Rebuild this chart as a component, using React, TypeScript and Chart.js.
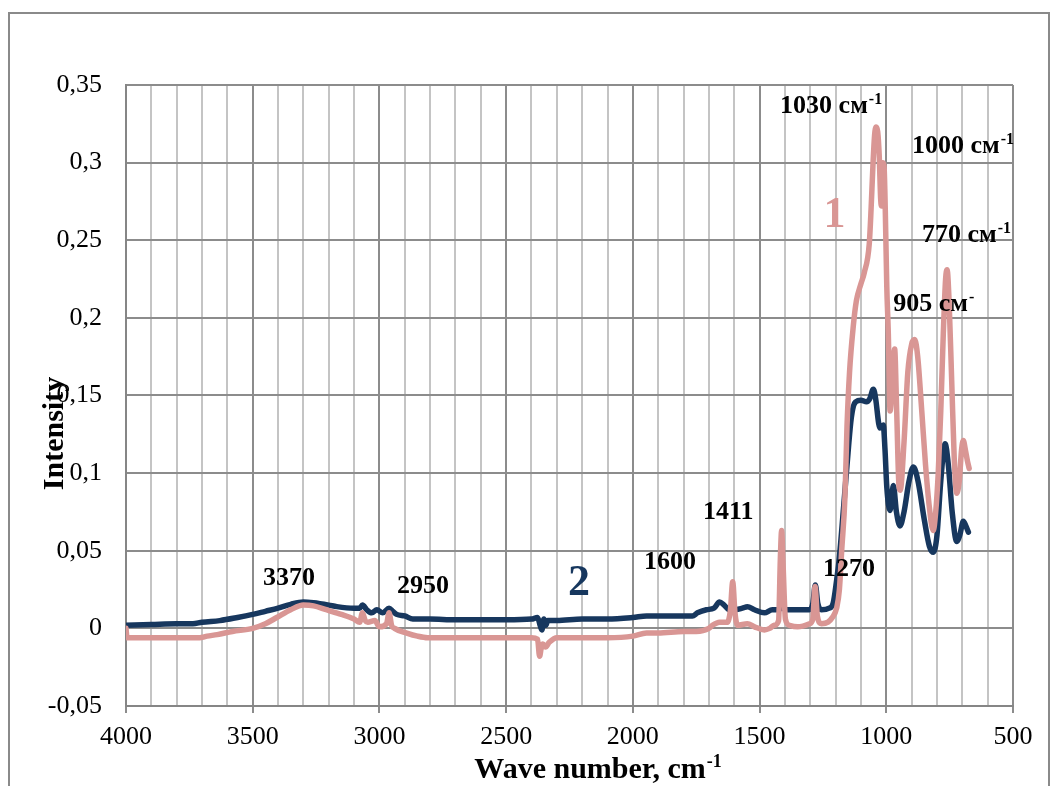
import React, { useEffect, useRef } from 'react';
import { Chart, registerables } from 'chart.js';

Chart.register(...registerables);

const FONT = '"Liberation Serif", "Times New Roman", serif';
const PINK = '#D99694';
const NAVY = '#17375E';

// Series 1 (pink)
const waveNumbers1 = [4000, 3996, 3900, 3800, 3710, 3680, 3640, 3580, 3500, 3450, 3405, 3350, 3300, 3260, 3210, 3150, 3100, 3078, 3067, 3056, 3046, 3018, 3000, 2972, 2962, 2952, 2940, 2892, 2850, 2810, 2700, 2600, 2500, 2400, 2376, 2368, 2361, 2355, 2345, 2330, 2300, 2200, 2100, 2000, 1946, 1900, 1800, 1750, 1700, 1686, 1658, 1627, 1615, 1606, 1597, 1587, 1548, 1520, 1481, 1460, 1442, 1425, 1418, 1413, 1407, 1398, 1382, 1350, 1303, 1290, 1281, 1272, 1256, 1230, 1213, 1196, 1185, 1176, 1163, 1155, 1145, 1130, 1118, 1100, 1087, 1067, 1060, 1053, 1046, 1040, 1034, 1028, 1022, 1018, 1014, 1009, 1004, 998, 992, 985, 976, 967, 959, 950, 945, 930, 915, 900, 888, 876, 860, 845, 830, 815, 805, 795, 785, 775, 766, 760, 752, 742, 732, 722, 712, 703, 696, 688, 680, 673];
const intensity1 = [0.000, -0.006, -0.006, -0.006, -0.006, -0.005, -0.004, -0.002, 0.000, 0.003, 0.007, 0.012, 0.015, 0.0145, 0.012, 0.009, 0.006, 0.004, 0.010, 0.005, 0.004, 0.005, 0.001, 0.003, 0.010, 0.002, 0.000, -0.003, -0.005, -0.006, -0.006, -0.006, -0.006, -0.006, -0.007, -0.018, -0.012, -0.010, -0.012, -0.009, -0.006, -0.006, -0.006, -0.005, -0.003, -0.003, -0.002, -0.002, 0.000, 0.002, 0.004, 0.004, 0.012, 0.030, 0.010, 0.002, 0.003, 0.001, -0.001, 0.000, 0.002, 0.005, 0.045, 0.063, 0.040, 0.006, 0.002, 0.001, 0.003, 0.006, 0.027, 0.008, 0.003, 0.004, 0.007, 0.013, 0.025, 0.050, 0.085, 0.13, 0.165, 0.195, 0.211, 0.222, 0.229, 0.248, 0.27, 0.297, 0.318, 0.323, 0.320, 0.305, 0.276, 0.272, 0.300, 0.298, 0.27, 0.22, 0.19, 0.14, 0.16, 0.18, 0.14, 0.092, 0.089, 0.12, 0.165, 0.183, 0.186, 0.175, 0.14, 0.105, 0.078, 0.063, 0.075, 0.10, 0.14, 0.19, 0.225, 0.231, 0.21, 0.16, 0.11, 0.087, 0.095, 0.115, 0.121, 0.115, 0.108, 0.103];

// Series 2 (navy)
const waveNumbers2 = [4000, 3900, 3800, 3736, 3700, 3630, 3560, 3500, 3450, 3400, 3350, 3300, 3260, 3200, 3168, 3100, 3078, 3067, 3050, 3030, 3010, 2987, 2962, 2947, 2932, 2900, 2868, 2800, 2700, 2600, 2500, 2400, 2376, 2366, 2359, 2351, 2343, 2336, 2329, 2300, 2200, 2100, 2000, 1946, 1900, 1800, 1765, 1745, 1710, 1680, 1658, 1640, 1620, 1600, 1568, 1548, 1520, 1481, 1450, 1434, 1410, 1390, 1370, 1330, 1303, 1290, 1280, 1270, 1256, 1225, 1210, 1196, 1185, 1170, 1155, 1140, 1130, 1120, 1100, 1078, 1065, 1051, 1042, 1030, 1025, 1012, 1005, 998, 985, 972, 960, 946, 930, 910, 893, 875, 850, 830, 814, 800, 785, 768, 755, 740, 722, 710, 696, 686, 676];
const intensity2 = [0.002, 0.0025, 0.003, 0.003, 0.004, 0.005, 0.007, 0.009, 0.011, 0.013, 0.0155, 0.017, 0.0165, 0.015, 0.014, 0.013, 0.013, 0.015, 0.012, 0.010, 0.012, 0.010, 0.013, 0.011, 0.009, 0.008, 0.006, 0.006, 0.0055, 0.0055, 0.0055, 0.006, 0.007, 0.002, -0.001, 0.006, 0.002, 0.005, 0.005, 0.005, 0.006, 0.006, 0.007, 0.008, 0.008, 0.008, 0.008, 0.010, 0.012, 0.013, 0.017, 0.015, 0.012, 0.012, 0.013, 0.014, 0.012, 0.010, 0.012, 0.012, 0.013, 0.012, 0.012, 0.012, 0.012, 0.016, 0.028, 0.016, 0.012, 0.013, 0.016, 0.031, 0.046, 0.075, 0.105, 0.133, 0.143, 0.146, 0.147, 0.146, 0.148, 0.154, 0.148, 0.132, 0.129, 0.131, 0.115, 0.091, 0.076, 0.092, 0.075, 0.066, 0.075, 0.095, 0.104, 0.095, 0.07, 0.053, 0.049, 0.06, 0.095, 0.119, 0.105, 0.075, 0.056, 0.06, 0.069, 0.066, 0.062];

// Axis ticks
const xMajorTicks = [4000, 3500, 3000, 2500, 2000, 1500, 1000, 500];
const xGridValues = Array.from({ length: 36 }, (_, i) => 500 + i * 100);
const yTicks = [-0.05, 0, 0.05, 0.1, 0.15, 0.2, 0.25, 0.3, 0.35];
const yTickLabels = ['-0,05', '0', '0,05', '0,1', '0,15', '0,2', '0,25', '0,3', '0,35'];

// Peak labels (anchor = left/baseline, in data units)
const peakLabels = [
  { text: '3370', sup: '', x: 3459, y: 0.028, size: 26, color: '#000' },
  { text: '2950', sup: '', x: 2931, y: 0.0228, size: 26, color: '#000' },
  { text: '1600', sup: '', x: 1956, y: 0.0383, size: 26, color: '#000' },
  { text: '1411', sup: '', x: 1723, y: 0.0705, size: 26, color: '#000' },
  { text: '1270', sup: '', x: 1250, y: 0.0338, size: 26, color: '#000' },
  { text: '1030 см', sup: '-1', x: 1419, y: 0.332, size: 26, color: '#000' },
  { text: '1000 см', sup: '-1', x: 899, y: 0.3062, size: 26, color: '#000' },
  { text: '770 см', sup: '-1', x: 859, y: 0.2489, size: 26, color: '#000' },
  { text: '905 см', sup: '-', x: 973, y: 0.2044, size: 26, color: '#000' },
  { text: '2', sup: '', x: 2256, y: 0.0215, size: 44, color: NAVY },
  { text: '1', sup: '', x: 1248, y: 0.2586, size: 44, color: PINK },
];

const isMajor = (v: number) => xMajorTicks.includes(v);

const decorPlugin = {
  id: 'decor',
  beforeDraw(chart: any) {
    const ctx = chart.ctx;
    ctx.save();
    ctx.strokeStyle = '#8a8a8a';
    ctx.lineWidth = 2;
    ctx.strokeRect(9, 13, 1040, 800);
    ctx.restore();
  },
  afterDraw(chart: any) {
    const ctx = chart.ctx;
    const xs = chart.scales.x;
    const ys = chart.scales.y;
    const area = chart.chartArea;
    ctx.save();
    ctx.textAlign = 'left';
    ctx.textBaseline = 'alphabetic';
    for (const a of peakLabels) {
      const px = xs.getPixelForValue(a.x);
      const py = ys.getPixelForValue(a.y);
      ctx.fillStyle = a.color;
      ctx.font = `bold ${a.size}px ${FONT}`;
      ctx.fillText(a.text, px, py);
      if (a.sup) {
        const w = ctx.measureText(a.text).width;
        ctx.font = `bold ${Math.round(a.size * 0.62)}px ${FONT}`;
        ctx.fillText(a.sup, px + w + 1, py - 9);
      }
    }
    // X axis title
    ctx.fillStyle = '#000';
    ctx.font = `bold 30px ${FONT}`;
    const main = 'Wave number, cm';
    const mw = ctx.measureText(main).width;
    ctx.font = `bold 18px ${FONT}`;
    const sw = ctx.measureText('-1').width;
    const cx = (area.left + area.right) / 2 + 28;
    const startX = cx - (mw + sw) / 2;
    ctx.font = `bold 30px ${FONT}`;
    ctx.fillText(main, startX, 778);
    ctx.font = `bold 18px ${FONT}`;
    ctx.fillText('-1', startX + mw + 1, 767);
    // Y axis title
    ctx.save();
    ctx.translate(63, (area.top + area.bottom) / 2 + 38);
    ctx.rotate(-Math.PI / 2);
    ctx.textAlign = 'center';
    ctx.font = `bold 30px ${FONT}`;
    ctx.fillText('Intensity', 0, 0);
    ctx.restore();
    ctx.restore();
  },
};

export default function App() {
  const canvasRef = useRef<HTMLCanvasElement | null>(null);

  useEffect(() => {
    const canvas = canvasRef.current;
    if (!canvas) return;
    const chart = new Chart(canvas, {
      type: 'line',
      data: {
        datasets: [
          {
            label: '1',
            data: waveNumbers1.map((w, i) => ({ x: w, y: intensity1[i] })),
            borderColor: PINK,
            backgroundColor: PINK,
            borderWidth: 5.5,
            pointRadius: 0,
            cubicInterpolationMode: 'monotone',
            borderJoinStyle: 'round',
            borderCapStyle: 'round',
            fill: false,
          },
          {
            label: '2',
            data: waveNumbers2.map((w, i) => ({ x: w, y: intensity2[i] })),
            borderColor: NAVY,
            backgroundColor: NAVY,
            borderWidth: 5.5,
            pointRadius: 0,
            cubicInterpolationMode: 'monotone',
            borderJoinStyle: 'round',
            borderCapStyle: 'round',
            fill: false,
          },
        ],
      },
      options: {
        animation: false,
        responsive: false,
        devicePixelRatio: 1,
        layout: { padding: { top: 85, right: 42, left: 0, bottom: 0 } },
        plugins: {
          legend: { display: false },
          tooltip: { enabled: false },
        },
        scales: {
          x: {
            type: 'linear',
            reverse: true,
            min: 500,
            max: 4000,
            afterBuildTicks: (s: any) => {
              s.ticks = xGridValues.map((v) => ({ value: v }));
            },
            afterFit: (s: any) => {
              s.height = 80;
            },
            ticks: {
              autoSkip: false,
              maxRotation: 0,
              minRotation: 0,
              padding: 9,
              color: '#000',
              font: { family: FONT, size: 26 },
              callback: (v: any) => (isMajor(Number(v)) ? String(v) : ''),
            },
            grid: {
              color: (c: any) => (c.tick && isMajor(c.tick.value) ? '#8c8c8c' : '#c4c4c4'),
              lineWidth: 2,
              tickLength: 7,
              tickColor: (c: any) => (c.tick && isMajor(c.tick.value) ? '#8c8c8c' : 'rgba(0,0,0,0)'),
              tickWidth: 2,
            },
            border: { color: '#868686', width: 2 },
          },
          y: {
            type: 'linear',
            min: -0.05,
            max: 0.35,
            afterBuildTicks: (s: any) => {
              s.ticks = yTicks.map((v) => ({ value: v }));
            },
            afterFit: (s: any) => {
              s.width = 126;
            },
            ticks: {
              padding: 24,
              color: '#000',
              font: { family: FONT, size: 26 },
              callback: (v: any, i: number) => yTickLabels[i],
            },
            grid: {
              color: '#8c8c8c',
              lineWidth: 2,
              drawTicks: false,
            },
            border: { color: '#868686', width: 2 },
          },
        },
      },
      plugins: [decorPlugin],
    } as any);
    return () => chart.destroy();
  }, []);

  return (
    <div style={{ position: 'fixed', left: 0, top: 0, width: 1055, height: 786, background: '#fff' }}>
      <canvas ref={canvasRef} width={1055} height={786} style={{ display: 'block' }} />
    </div>
  );
}
